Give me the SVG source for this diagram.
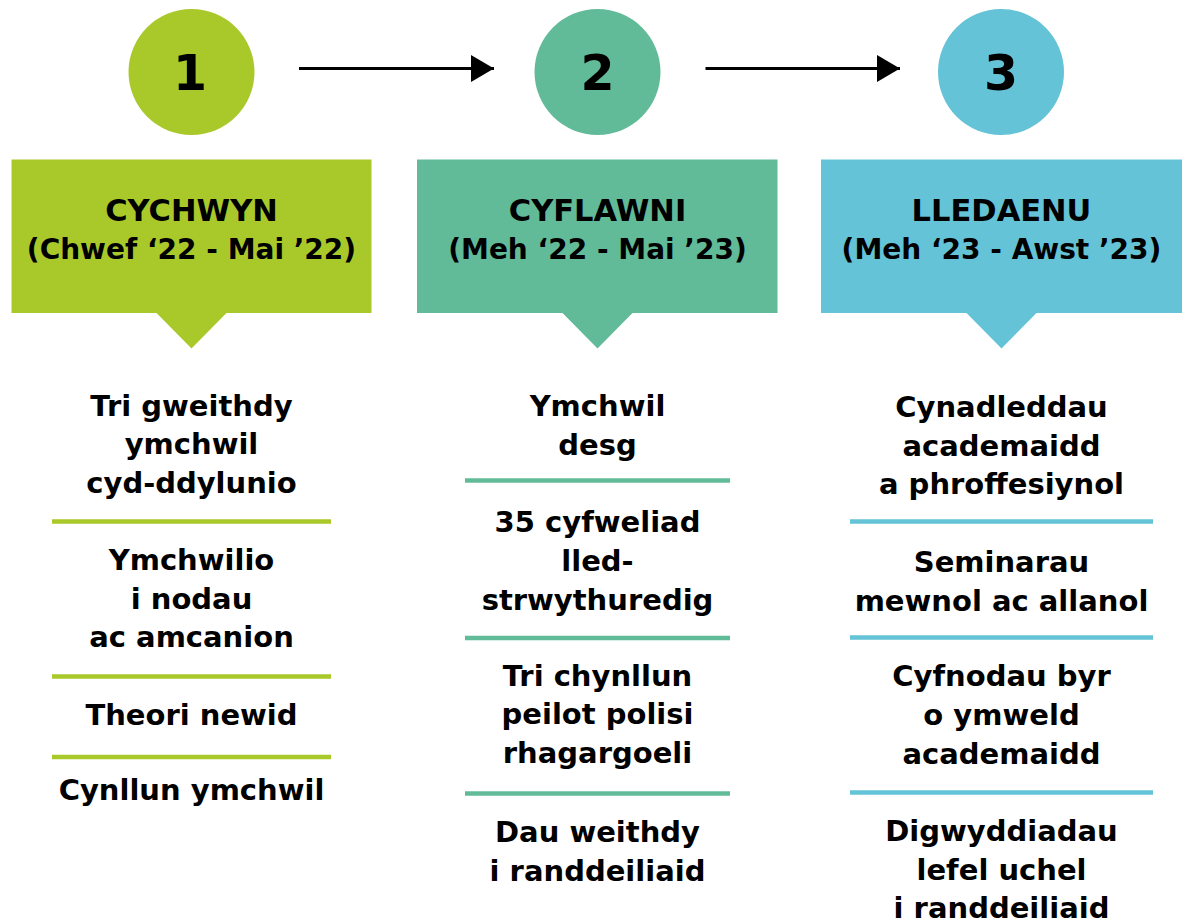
<svg xmlns="http://www.w3.org/2000/svg" width="1182" height="922" viewBox="0 0 1182 922">
<defs>
<style>
.num{font-family:"DejaVu Sans","Liberation Sans",sans-serif;font-weight:700;font-size:49px;fill:#000;text-anchor:middle}
.hd{font-family:"DejaVu Sans","Liberation Sans",sans-serif;font-weight:700;font-size:28px;fill:#000;text-anchor:middle}
.hd1{font-size:30.5px}
.bd{font-family:"DejaVu Sans","Liberation Sans",sans-serif;font-weight:700;font-size:29px;fill:#000;text-anchor:middle}
.c1{fill:#A9C92B}.c2{fill:#61BB98}.c3{fill:#65C3D7}
.s1{stroke:#A9C92B;stroke-width:4.5}.s2{stroke:#61BB98;stroke-width:4.5}.s3{stroke:#65C3D7;stroke-width:4.5}
.arr{stroke:#000;stroke-width:3;fill:none}
</style>
<marker id="ah" markerUnits="userSpaceOnUse" markerWidth="24" markerHeight="28" refX="23" refY="13.5" orient="auto">
<path d="M0,0 L23,13.5 L0,27 Z" fill="#000"/>
</marker>
</defs>
<rect width="1182" height="922" fill="#fff"/>
<g id="connectors">
<line class="arr" x1="299" y1="68.5" x2="494" y2="68.5" marker-end="url(#ah)"/>
<line class="arr" x1="705.5" y1="68.5" x2="900" y2="68.5" marker-end="url(#ah)"/>
</g>
<g id="step1">
<circle class="c1" cx="191.5" cy="72" r="63"/>
<text class="num" x="190" y="89.6">1</text>
</g>
<g id="step2">
<circle class="c2" cx="597.5" cy="72" r="63"/>
<text class="num" x="597.5" y="89.6">2</text>
</g>
<g id="step3">
<circle class="c3" cx="1001" cy="72" r="63"/>
<text class="num" x="1001" y="89.6">3</text>
</g>
<g id="header1">
<path class="c1" d="M11.5,159.5 H371.5 V313 H226.5 L191.5,348.5 L156.5,313 H11.5 Z"/>
<text class="hd hd1" x="191.5" y="220.7">CYCHWYN</text>
<text class="hd" x="191.5" y="259">(Chwef ‘22 - Mai ’22)</text>
</g>
<g id="header2">
<path class="c2" d="M417,159.5 H777.5 V313 H632.5 L597.5,348.5 L562.5,313 H417 Z"/>
<text class="hd hd1" x="597.5" y="220.7">CYFLAWNI</text>
<text class="hd" x="597.5" y="259">(Meh ‘22 - Mai ’23)</text>
</g>
<g id="header3">
<path class="c3" d="M821,159.5 H1182 V313 H1036.5 L1001.5,348.5 L966.5,313 H821 Z"/>
<text class="hd hd1" x="1001.5" y="220.7">LLEDAENU</text>
<text class="hd" x="1001.5" y="259">(Meh ‘23 - Awst ’23)</text>
</g>
<g id="list1">
<text class="bd" x="191.5" y="415.7">Tri gweithdy</text>
<text class="bd" x="191.5" y="454">ymchwil</text>
<text class="bd" x="191.5" y="492.7">cyd-ddylunio</text>
<line class="s1" x1="52" y1="521.5" x2="331" y2="521.5"/>
<text class="bd" x="191.5" y="570">Ymchwilio</text>
<text class="bd" x="191.5" y="608.7">i nodau</text>
<text class="bd" x="191.5" y="647">ac amcanion</text>
<line class="s1" x1="52" y1="676.5" x2="331" y2="676.5"/>
<text class="bd" x="191.5" y="725">Theori newid</text>
<line class="s1" x1="52" y1="757" x2="331" y2="757"/>
<text class="bd" x="191.5" y="800">Cynllun ymchwil</text>
</g>
<g id="list2">
<text class="bd" x="597.5" y="416">Ymchwil</text>
<text class="bd" x="597.5" y="455">desg</text>
<line class="s2" x1="465" y1="480.5" x2="730" y2="480.5"/>
<text class="bd" x="597.5" y="532">35 cyfweliad</text>
<text class="bd" x="597.5" y="570.7">lled-</text>
<text class="bd" x="597.5" y="609.6">strwythuredig</text>
<line class="s2" x1="465" y1="638" x2="730" y2="638"/>
<text class="bd" x="597.5" y="685.5">Tri chynllun</text>
<text class="bd" x="597.5" y="724">peilot polisi</text>
<text class="bd" x="597.5" y="763">rhagargoeli</text>
<line class="s2" x1="465" y1="793.5" x2="730" y2="793.5"/>
<text class="bd" x="597.5" y="841.7">Dau weithdy</text>
<text class="bd" x="597.5" y="880.6">i randdeiliaid</text>
</g>
<g id="list3">
<text class="bd" x="1001.5" y="416.8">Cynadleddau</text>
<text class="bd" x="1001.5" y="455.6">academaidd</text>
<text class="bd" x="1001.5" y="494">a phroffesiynol</text>
<line class="s3" x1="850" y1="521.4" x2="1153" y2="521.4"/>
<text class="bd" x="1001.5" y="571.8">Seminarau</text>
<text class="bd" x="1001.5" y="610.5">mewnol ac allanol</text>
<line class="s3" x1="850" y1="637.6" x2="1153" y2="637.6"/>
<text class="bd" x="1001.5" y="685.8">Cyfnodau byr</text>
<text class="bd" x="1001.5" y="725">o ymweld</text>
<text class="bd" x="1001.5" y="763.7">academaidd</text>
<line class="s3" x1="850" y1="792.5" x2="1153" y2="792.5"/>
<text class="bd" x="1001.5" y="841">Digwyddiadau</text>
<text class="bd" x="1001.5" y="880">lefel uchel</text>
<text class="bd" x="1001.5" y="918">i randdeiliaid</text>
</g>
</svg>
